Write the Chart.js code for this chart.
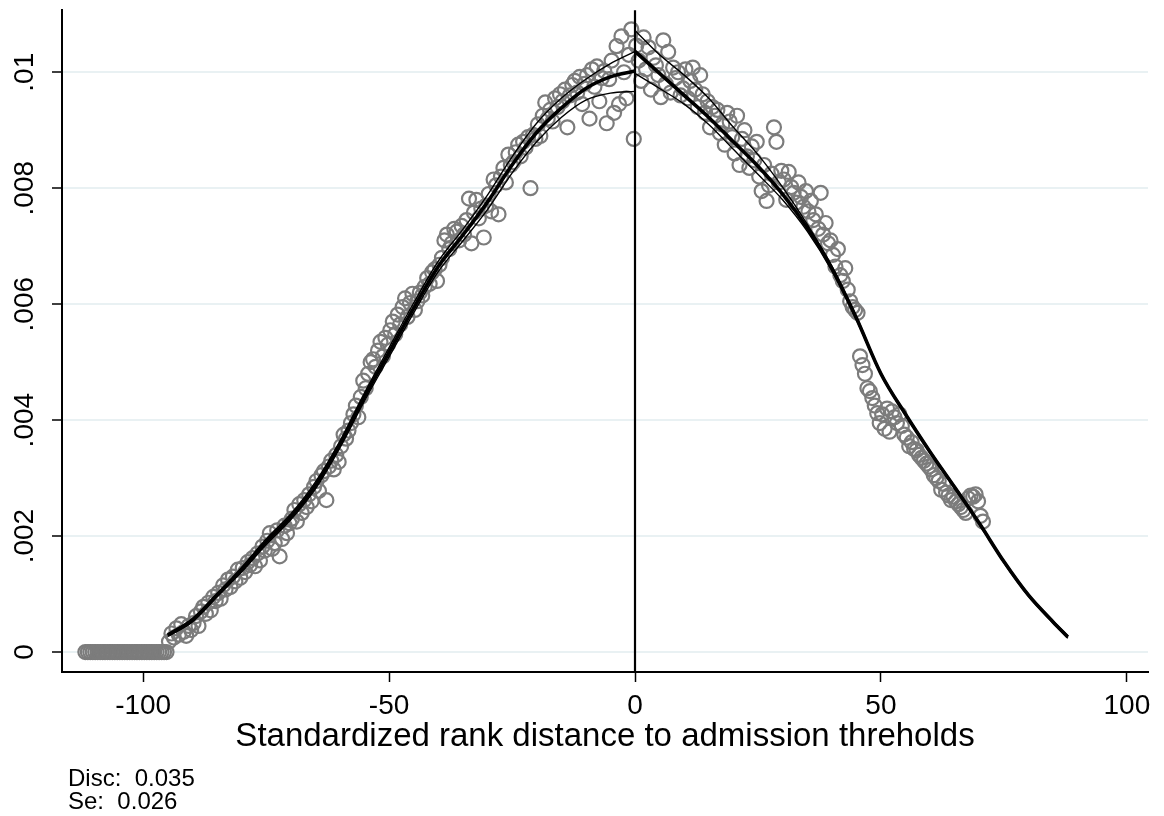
<!DOCTYPE html>
<html>
<head>
<meta charset="utf-8">
<script src="https://cdn.jsdelivr.net/npm/chart.js@4.4.1/dist/chart.umd.min.js"></script>
<style>
  html, body { margin: 0; padding: 0; background: #fff; }
</style>
</head>
<body>
<canvas id="density" width="1164" height="816"></canvas>
<script>
const binStep = 0.5;
const cutoff = 0;

const zeroBinStart = -111.75;
const zeroBinsPerMille = [0, 0, 0, 0, 0, 0, 0, 0, 0, 0, 0, 0, 0, 0, 0, 0, 0,
  0, 0, 0, 0, 0, 0, 0, 0, 0, 0, 0, 0, 0, 0, 0, 0, 0];

const leftBinStart = -94.75;
const leftBinsPerMille = [
  0.18, 0.32, 0.25, 0.41, 0.30, 0.48, 0.35, 0.28, 0.45, 0.38,
  0.50, 0.62, 0.45, 0.70, 0.78, 0.66, 0.85, 0.72, 0.95, 0.88,
  1.02, 0.92, 1.15, 1.08, 1.25, 1.12, 1.30, 1.22, 1.42, 1.28,
  1.45, 1.38, 1.55, 1.50, 1.62, 1.48, 1.70, 1.58, 1.82, 1.75,
  1.92, 2.05, 1.78, 1.88, 2.10, 1.65, 1.95, 2.18, 2.05, 2.22,
  2.30, 2.45, 2.25, 2.55, 2.40, 2.62, 2.50, 2.72, 2.60, 2.85,
  2.95, 2.78, 3.05, 3.12, 2.62, 3.20, 3.30, 3.15, 3.40, 3.28,
  3.55, 3.75, 3.68, 3.82, 3.95, 4.10, 4.25, 4.05, 4.40, 4.68,
  4.55, 4.80, 5.00, 5.05, 4.92, 5.20, 5.35, 5.10, 5.42, 5.30,
  5.55, 5.70, 5.48, 5.82, 5.65, 5.95, 6.10, 5.78, 6.02, 6.18,
  5.90, 6.05, 6.20, 6.15, 6.30, 6.45, 6.35, 6.55, 6.60, 6.40,
  6.68, 6.80, 7.10, 7.20, 6.95, 7.05, 7.30, 7.25, 7.10, 7.35,
  7.20, 7.45, 7.82, 7.05, 7.58, 7.80, 7.48, 7.65, 7.15, 7.70,
  7.90, 7.60, 8.15, 8.05, 7.55, 8.20, 8.35, 8.10, 8.58, 8.40,
  8.45, 8.62, 8.75, 8.55, 8.80, 8.70, 8.88, 8.00, 8.92, 8.85,
  9.10, 8.90, 9.25, 9.48, 9.20, 9.35, 9.15, 9.55, 9.40, 9.62,
  9.50, 9.70, 9.05, 9.60, 9.78, 9.85, 9.65, 9.92, 9.45, 9.80,
  9.95, 9.20, 10.05, 9.75, 10.10, 9.50, 9.90, 10.02, 9.12, 9.88,
  10.20, 9.30, 10.45, 9.45, 10.62, 10.00, 9.55, 10.30, 10.74, 8.85
];

const rightBinStart = 0.25;
const rightBinsPerMille = [
  10.46, 10.20, 9.85, 10.60, 10.05, 10.43, 9.70, 10.25, 10.12, 9.95,
  9.57, 10.55, 9.80, 10.35, 9.65, 10.08, 9.90, 10.00, 9.60, 9.72,
  10.05, 9.55, 9.85, 10.08, 9.70, 9.40, 9.95, 9.62, 9.30, 9.50,
  9.05, 9.40, 9.25, 9.35, 8.95, 9.10, 8.75, 9.30, 9.15, 8.88,
  8.60, 9.25, 8.40, 8.85, 9.00, 8.55, 8.35, 8.72, 8.48, 8.80,
  8.20, 7.95, 8.40, 7.78, 8.05, 8.25, 9.05, 8.80, 8.10, 8.30,
  8.15, 7.80, 8.28, 8.02, 7.92, 7.75, 8.10, 7.85, 7.68, 7.95,
  7.60, 7.78, 7.45, 7.55, 7.30, 7.92, 7.20, 7.40, 7.05, 7.10,
  6.85, 6.65, 6.95, 6.50, 6.40, 6.62, 6.25, 6.05, 5.95, 5.90,
  5.85, 5.10, 4.95, 4.80, 4.55, 4.50, 4.38, 4.25, 4.12, 3.95,
  4.10, 3.85, 4.20, 3.80, 4.15, 4.05, 3.95, 4.10, 3.90, 3.75,
  3.70, 3.55, 3.62, 3.50, 3.48, 3.40, 3.35, 3.30, 3.25, 3.20,
  3.15, 3.05, 3.00, 2.95, 2.80, 2.90, 2.75, 2.70, 2.62, 2.68,
  2.60, 2.55, 2.50, 2.45, 2.40, 2.65, 2.70, 2.68, 2.72, 2.60,
  2.35, 2.25
];

// local linear fits on each side of the cutoff, with confidence bands
const leftFitX = [-95, -90, -85, -80, -75, -70, -65, -60, -55, -50, -45, -40, -35, -30, -25, -20, -15, -10, -5, 0];
const leftFit = [0.29, 0.55, 0.98, 1.42, 1.90, 2.33, 2.87, 3.58, 4.40, 5.17, 5.93, 6.65, 7.19, 7.76, 8.40, 8.96, 9.38, 9.72, 9.92, 10.02];
const leftUpper = [0.31, 0.58, 1.01, 1.46, 1.95, 2.38, 2.93, 3.64, 4.47, 5.25, 6.02, 6.74, 7.29, 7.88, 8.54, 9.12, 9.55, 9.88, 10.15, 10.36];
const leftLower = [0.27, 0.52, 0.95, 1.38, 1.85, 2.28, 2.81, 3.52, 4.33, 5.09, 5.85, 6.56, 7.09, 7.63, 8.26, 8.80, 9.22, 9.52, 9.64, 9.67];

const rightFitX = [0, 5, 10, 15, 20, 25, 30, 35, 40, 45, 50, 55, 60, 65, 70, 75, 80, 85, 88];
const rightFit = [10.36, 9.98, 9.60, 9.22, 8.80, 8.38, 7.90, 7.32, 6.62, 5.76, 4.80, 4.10, 3.45, 2.84, 2.22, 1.56, 0.98, 0.52, 0.26];
const rightUpper = [10.72, 10.30, 9.95, 9.55, 9.05, 8.58, 8.02, 7.38, 6.66, 5.79, 4.82, 4.12, 3.47, 2.86, 2.24, 1.58, 1.00, 0.54, 0.28];
const rightLower = [9.98, 9.72, 9.45, 9.10, 8.67, 8.24, 7.80, 7.26, 6.58, 5.73, 4.78, 4.08, 3.43, 2.82, 2.20, 1.54, 0.96, 0.50, 0.24];

const xTicks = [-100, -50, 0, 50, 100];
const yTicks = [0, 0.002, 0.004, 0.006, 0.008, 0.01];
const yTickLabels = ['0', '.002', '.004', '.006', '.008', '.01'];

const xTitle = 'Standardized rank distance to admission threholds';
const notes = ['Disc:  0.035', 'Se:  0.026'];

const fontFamily = "'Liberation Sans', Arial, Helvetica, sans-serif";

function binPoints(start, values) {
  return values.map((v, i) => ({ x: start + i * binStep, y: v / 1000 }));
}
function curvePoints(xs, ys) {
  return xs.map((x, i) => ({ x: x, y: ys[i] / 1000 }));
}

const scatterPoints = [
  ...binPoints(zeroBinStart, zeroBinsPerMille),
  ...binPoints(leftBinStart, leftBinsPerMille),
  ...binPoints(rightBinStart, rightBinsPerMille)
];

function fitLine(points, width) {
  return {
    type: 'line',
    data: points,
    borderColor: '#000',
    borderWidth: width,
    pointRadius: 0,
    fill: false,
    cubicInterpolationMode: 'monotone',
    order: 1
  };
}

// draws the cutoff line, rotated y labels, axis title and the notes
const stataText = {
  id: 'stataText',
  afterDatasetsDraw(chart) {
    const { ctx, chartArea, scales } = chart;
    const xc = scales.x.getPixelForValue(cutoff);
    ctx.save();
    ctx.strokeStyle = '#000';
    ctx.lineWidth = 2.2;
    ctx.beginPath();
    ctx.moveTo(xc, chartArea.top);
    ctx.lineTo(xc, chartArea.bottom);
    ctx.stroke();
    ctx.restore();
  },
  afterDraw(chart) {
    const { ctx, chartArea, scales } = chart;
    ctx.save();
    ctx.fillStyle = '#000';

    ctx.font = '28px ' + fontFamily;
    ctx.textAlign = 'center';
    ctx.textBaseline = 'alphabetic';
    yTicks.forEach((v, i) => {
      const py = scales.y.getPixelForValue(v);
      ctx.save();
      ctx.translate(33, py);
      ctx.rotate(-Math.PI / 2);
      ctx.fillText(yTickLabels[i], 0, 0);
      ctx.restore();
    });

    ctx.font = '33px ' + fontFamily;
    ctx.fillText(xTitle, (chartArea.left + chartArea.right) / 2, 746);

    ctx.font = '24px ' + fontFamily;
    ctx.textAlign = 'left';
    notes.forEach((t, i) => ctx.fillText(t, 68, 786 + i * 23));
    ctx.restore();
  }
};

new Chart(document.getElementById('density'), {
  type: 'scatter',
  data: {
    datasets: [
      fitLine(curvePoints(leftFitX, leftFit), 3.6),
      fitLine(curvePoints(leftFitX, leftUpper), 1.4),
      fitLine(curvePoints(leftFitX, leftLower), 1.4),
      fitLine(curvePoints(rightFitX, rightFit), 3.6),
      fitLine(curvePoints(rightFitX, rightUpper), 1.4),
      fitLine(curvePoints(rightFitX, rightLower), 1.4),
      {
        type: 'scatter',
        data: scatterPoints,
        pointStyle: 'circle',
        pointRadius: 7,
        pointBorderWidth: 2.2,
        pointBorderColor: '#7c7c7c',
        pointBackgroundColor: 'rgba(0,0,0,0)',
        borderColor: '#7c7c7c',
        backgroundColor: 'rgba(0,0,0,0)',
        order: 2
      }
    ]
  },
  options: {
    responsive: false,
    animation: false,
    layout: { padding: { top: 8, right: 16, left: 0, bottom: 0 } },
    plugins: {
      legend: { display: false },
      tooltip: { enabled: false }
    },
    scales: {
      x: {
        type: 'linear',
        min: -116.5,
        max: 104.3,
        afterBuildTicks: s => { s.ticks = xTicks.map(v => ({ value: v })); },
        afterFit: s => { s.height = 144; },
        ticks: {
          callback: v => String(v),
          color: '#000',
          font: { family: fontFamily, size: 28 },
          padding: 7,
          maxRotation: 0,
          autoSkip: false
        },
        grid: {
          drawOnChartArea: false,
          tickLength: 10,
          tickColor: '#000',
          tickWidth: 1.5
        },
        border: { color: '#000', width: 2 }
      },
      y: {
        type: 'linear',
        min: -0.000344,
        max: 0.01107,
        afterBuildTicks: s => { s.ticks = yTicks.map(v => ({ value: v })); },
        afterFit: s => { s.width = 62; },
        ticks: {
          callback: () => '',
          color: 'rgba(0,0,0,0)'
        },
        grid: {
          color: '#e9f1f3',
          lineWidth: 2,
          tickLength: 10,
          tickColor: '#000',
          tickWidth: 1.5
        },
        border: { color: '#000', width: 2 }
      }
    }
  },
  plugins: [stataText]
});
</script>
</body>
</html>
